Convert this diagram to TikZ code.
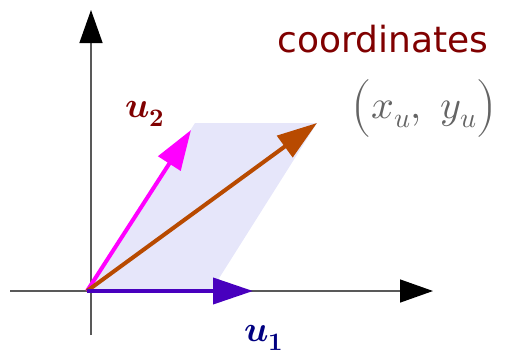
\documentclass[tikz,border=0pt]{standalone}
\usepackage{fontspec}
\usepackage{unicode-math}
\setmathfont{Latin Modern Math}
\usetikzlibrary{arrows.meta}
\newfontfamily\dvsans{DejaVu Sans}
\definecolor{uone}{RGB}{72,0,190}
\definecolor{utwo}{RGB}{255,0,255}
\definecolor{usum}{RGB}{184,74,0}
\definecolor{para}{RGB}{230,230,250}
\definecolor{dred}{RGB}{128,0,0}
\definecolor{dblue}{RGB}{0,0,128}
\definecolor{mgray}{RGB}{100,100,100}
\tikzset{
  axisline/.style={draw=black!65, line width=1.4pt, -{Triangle[length=33pt,width=23pt,color=black]}},
  vec/.style={line width=4pt, -{Triangle[length=40pt,width=26pt]}},
  lbl/.style={inner sep=0pt, outer sep=0pt}
}
\begin{document}
\begin{tikzpicture}[x=1pt,y=-1pt]
\useasboundingbox (0,0) rectangle (505,357);
\coordinate (O) at (87,291);
\coordinate (A) at (211,291);
\coordinate (S) at (317,123);
\coordinate (B) at (195,123);
\coordinate (XL) at (10,291);
\coordinate (XR) at (433,291);
\coordinate (YB) at (91,335);
\coordinate (YT) at (91,10);
\coordinate (U1) at (253,291);
\coordinate (U2) at (191,130);
\fill[para] (O) -- (A) -- (S) -- (B) -- cycle;
\draw[axisline] (XL) -- (XR);
\draw[axisline] (YB) -- (YT);
\draw[vec, utwo] (O) -- (U2);
\draw[vec, usum] (O) -- (S);
\draw[vec, uone] (O) -- (U1);
\node[lbl, text=dred, anchor=base] (coord) at (383,52) {\dvsans\fontsize{36}{40}\selectfont coordinates};
\node[lbl, text=mgray] (xy) at (424,108) {\fontsize{40}{44}\selectfont $\left(\vrule height 25pt depth 17pt width 0pt x_u,\ y_u\right)$};
\node[lbl, text=dred] (l2) at (145,114) {\fontsize{36}{40}\selectfont $\symbfit{u}_{\symbf{2}}$};
\node[lbl, text=dblue] (l1) at (264,338) {\fontsize{36}{40}\selectfont $\symbfit{u}_{\symbf{1}}$};
\end{tikzpicture}
\end{document}
